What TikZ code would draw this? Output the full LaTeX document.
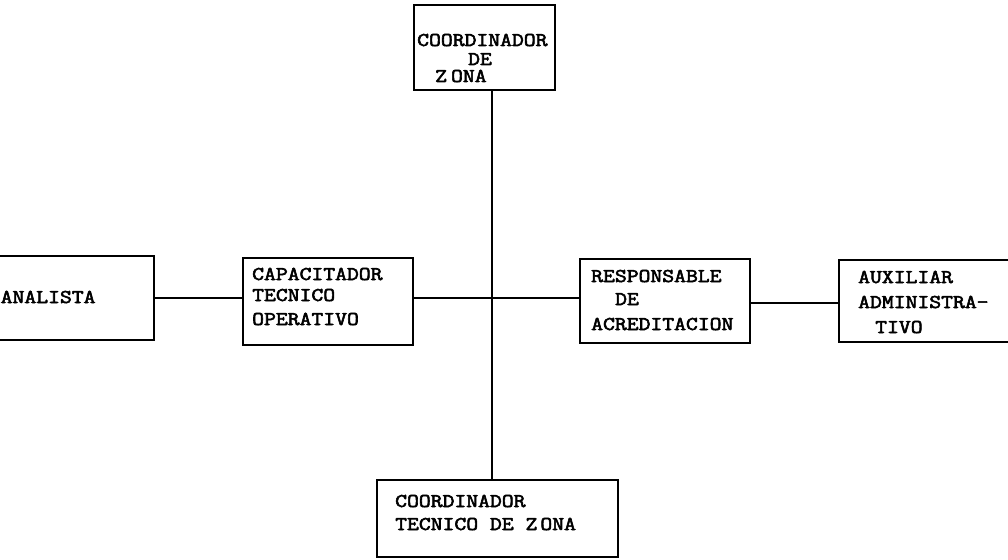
\documentclass[tikz,border=0pt]{standalone}
\usepackage{fontspec}
\newfontfamily\typew{Latin Modern Mono}[FakeStretch=1.18,FakeBold=3]
\begin{document}
\begin{tikzpicture}[x=1pt,y=-1pt,
  box/.style={draw,line width=1.2pt,rectangle,inner sep=0pt},
  lbl/.style={font=\typew\fontsize{19.5}{19.5}\selectfont,anchor=base west,inner sep=0pt},
  conn/.style={line width=1.2pt}]
\useasboundingbox (0,0) rectangle (1008,559);
\clip (0,0) rectangle (1008,559);
\node[box,minimum width=141pt,minimum height=85pt] (top) at (484.5,47.5) {};
\node[box,minimum width=174pt,minimum height=84pt] (ana) at (67,298) {};
\node[box,minimum width=170pt,minimum height=87pt] (cap) at (328,301.5) {};
\node[box,minimum width=170pt,minimum height=84pt] (res) at (665,301) {};
\node[box,minimum width=181pt,minimum height=82pt] (aux) at (929.5,301) {};
\node[box,minimum width=241pt,minimum height=77pt] (bot) at (497.5,518.5) {};
\coordinate (hub) at (492,298);
\coordinate (lvl) at (0,303);
% labels
\node[lbl] (t1) at (417,46) {COORDINADOR};
\node[lbl] (t2) at (468,65) {DE};
\node[lbl] (t3) at (435,82) {Z\kern4pt ONA};
\node[lbl] (a1) at (0.5,303) {ANALISTA};
\node[lbl] (c1) at (252,280) {CAPACITADOR};
\node[lbl] (c2) at (252,301) {TECNICO};
\node[lbl] (c3) at (252,325) {OPERATIVO};
\node[lbl] (r1) at (591,282) {RESPONSABLE};
\node[lbl] (r2) at (615,305) {DE};
\node[lbl] (r3) at (591,330) {ACREDITACION};
\node[lbl] (x1) at (858,283) {AUXILIAR};
\node[lbl] (x2) at (858,308) {ADMINISTRA-};
\node[lbl] (x3) at (875,333) {TIVO};
\node[lbl] (b1) at (395,507) {COORDINADOR};
\node[lbl] (b2) at (395,530) {TECNICO DE Z\kern3pt ONA};
% connectors
\draw[conn] (top.south -| hub) -- (bot.north -| hub);
\draw[conn] (ana.east |- hub) -- (cap.west |- hub);
\draw[conn] (cap.east |- hub) -- (res.west |- hub);
\draw[conn] (res.east |- lvl) -- (aux.west |- lvl);
\end{tikzpicture}
\end{document}
